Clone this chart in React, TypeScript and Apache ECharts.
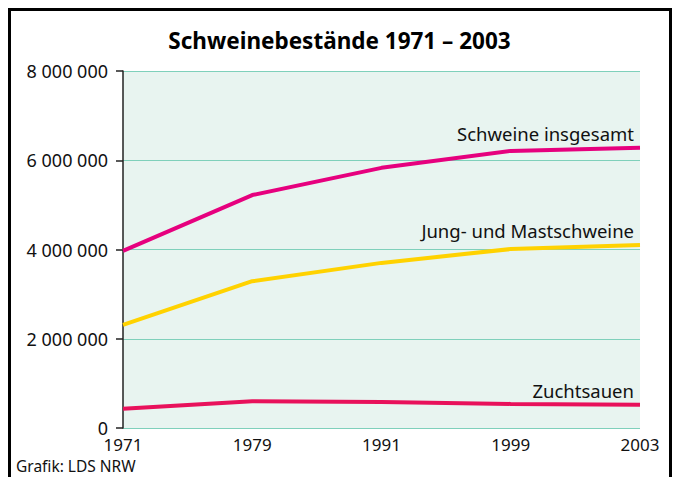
import React, { useEffect, useRef } from "react";
import * as echarts from "echarts";

const years = ["1971", "1979", "1991", "1999", "2003"];
const schweineInsgesamt = [3970000, 5220000, 5830000, 6210000, 6280000];
const jungUndMast = [2310000, 3290000, 3700000, 4010000, 4100000];
const zuchtsauen = [430000, 600000, 580000, 540000, 520000];
const yTicks = [0, 2000000, 4000000, 6000000, 8000000];

const FONT = "Noto Sans";

function endLabel(text: string) {
  return {
    show: true,
    formatter: text,
    align: "right",
    verticalAlign: "bottom",
    distance: 0,
    offset: [-6, -5],
    fontFamily: FONT,
    fontSize: 18.5,
    color: "#111",
  };
}

export default function App() {
  const ref = useRef<HTMLDivElement>(null);
  useEffect(() => {
    if (!ref.current) return;
    const chart = echarts.init(ref.current, undefined, { renderer: "svg" });
    chart.setOption({
      animation: false,
      backgroundColor: "#ffffff",
      textStyle: { fontFamily: FONT },
      title: {
        text: "Schweinebestände 1971 – 2003",
        left: "center",
        top: 24,
        textStyle: { fontFamily: FONT, fontWeight: "bold", fontSize: 22.5, color: "#000" },
      },
      graphic: [
        {
          type: "rect",
          shape: { x: 9.5, y: 9.5, width: 661, height: 490 },
          style: { fill: "none", stroke: "#000", lineWidth: 3 },
          silent: true,
        },
        {
          type: "text",
          left: 16,
          top: 457,
          style: { text: "Grafik: LDS NRW", fontFamily: FONT, fontSize: 15.5, lineHeight: 17, fill: "#111" },
        },
      ],
      grid: {
        left: 123,
        right: 39,
        top: 71,
        bottom: 49,
        show: true,
        backgroundColor: "#e8f4f0",
        borderWidth: 0,
      },
      xAxis: {
        type: "category",
        data: years,
        boundaryGap: false,
        axisLine: { show: false },
        axisTick: { show: false },
        axisLabel: { fontFamily: FONT, fontSize: 17, lineHeight: 16, color: "#111", margin: 8 },
        splitLine: { show: false },
      },
      yAxis: {
        type: "value",
        min: yTicks[0],
        max: yTicks[yTicks.length - 1],
        interval: 2000000,
        axisLine: { show: true, lineStyle: { color: "#222", width: 1.5 } },
        axisTick: { show: true, length: 7, lineStyle: { color: "#222", width: 1.5 } },
        axisLabel: {
          fontFamily: FONT,
          fontSize: 18,
          lineHeight: 15,
          color: "#111",
          margin: 15,
          formatter: (v: number) => String(v).replace(/\B(?=(\d{3})+(?!\d))/g, " "),
        },
        splitLine: { show: true, lineStyle: { color: "#7fd0bb", width: 1.2 } },
      },
      series: [
        {
          type: "line",
          name: "Schweine insgesamt",
          data: schweineInsgesamt,
          showSymbol: false,
          symbol: "none",
          lineStyle: { color: "#e6007e", width: 4 },
          endLabel: endLabel("Schweine insgesamt"),
          z: 3,
        },
        {
          type: "line",
          name: "Jung- und Mastschweine",
          data: jungUndMast,
          showSymbol: false,
          symbol: "none",
          lineStyle: { color: "#ffd200", width: 4 },
          endLabel: endLabel("Jung- und Mastschweine"),
          z: 3,
        },
        {
          type: "line",
          name: "Zuchtsauen",
          data: zuchtsauen,
          showSymbol: false,
          symbol: "none",
          lineStyle: { color: "#e8115b", width: 4 },
          endLabel: endLabel("Zuchtsauen"),
          z: 3,
        },
      ],
    });
    return () => chart.dispose();
  }, []);
  return (
    <div
      ref={ref}
      style={{ position: "absolute", left: 0, top: 0, width: 679, height: 477 }}
    />
  );
}
